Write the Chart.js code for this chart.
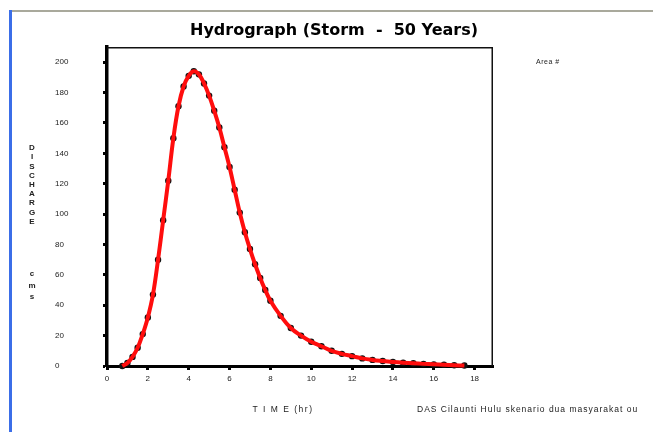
<!DOCTYPE html>
<html><head><meta charset="utf-8">
<script src="https://cdn.jsdelivr.net/npm/chart.js@4.4.0/dist/chart.umd.min.js"></script>
<style>html,body{margin:0;padding:0;background:#fff;overflow:hidden}#wrap{width:653px;height:432px;position:relative}</style>
</head><body><div id="wrap"><canvas id="c" width="653" height="432"></canvas></div>
<script>
// ---- data ----
const timeHr = [0.75,1.0,1.25,1.5,1.75,2.0,2.25,2.5,2.75,3.0,3.25,3.5,3.75,4.0,4.25,4.5,4.75,5.0,5.25,5.5,5.75,6.0,6.25,6.5,6.75,7.0,7.25,7.5,7.75,8.0,8.5,9.0,9.5,10.0,10.5,11.0,11.5,12.0,12.5,13.0,13.5,14.0,14.5,15.0,15.5,16.0,16.5,17.0,17.5];
const dischargeCms = [0,2,6,12,21,32,47,70,96,122,150,171,184,191,194,192,186,178,168,157,144,131,116,101,88,77,67,58,50,43,33,25,20,16,13,10,8,6.5,5,4,3.3,2.7,2.2,1.8,1.4,1.1,0.8,0.5,0.3];
const xTickValues = [0,2,4,6,8,10,12,14,16,18];
const yTickValues = [0,20,40,60,80,100,120,140,160,180,200];
const chartTitle = 'Hydrograph (Storm  -  50 Years)';
const yTitleLetters = ['D','I','S','C','H','A','R','G','E'];
const yUnitLetters = ['c','m','s'];
const xTitle = 'T I M E (hr)';
const legendNote = 'Area #';
const footNote = 'DAS Cilaunti Hulu skenario dua masyarakat ou';

const points = timeHr.map((t,i)=>({x:t,y:dischargeCms[i]}));

const decor = {
  id:'decor',
  beforeDraw(chart){
    const ctx = chart.ctx; ctx.save();
    ctx.fillStyle = '#ffffff'; ctx.fillRect(0,0,chart.width,chart.height);
    ctx.fillStyle = '#a9a99c'; ctx.fillRect(12,10,chart.width-12,2);
    ctx.fillStyle = '#3b6ee8'; ctx.fillRect(9,10,3,chart.height-10);
    ctx.restore();
  },
  beforeDatasetsDraw(chart){
    const ctx = chart.ctx, a = chart.chartArea; ctx.save();
    ctx.strokeStyle = '#111'; ctx.lineWidth = 1.5;
    ctx.beginPath(); ctx.moveTo(a.left, a.top+0.75); ctx.lineTo(a.right-0.75, a.top+0.75); ctx.lineTo(a.right-0.75, a.bottom); ctx.stroke();
    ctx.restore();
  },
  afterDraw(chart){
    const ctx = chart.ctx; ctx.save();
    ctx.fillStyle = '#000';
    ctx.font = 'bold 16px "DejaVu Sans"';
    ctx.textAlign = 'center'; ctx.textBaseline = 'middle';
    ctx.fillText(chartTitle, 334, 31);
    ctx.font = 'bold 8px "Liberation Sans"'; ctx.fillStyle = '#222';
    yTitleLetters.forEach((ch,i)=>ctx.fillText(ch, 32, 148 + i*9.2));
    const uy = [274, 286, 297];
    yUnitLetters.forEach((ch,i)=>ctx.fillText(ch, 32, uy[i]));
    ctx.font = '8.5px "Liberation Sans"';
    ctx.letterSpacing = '1.5px';
    ctx.fillText(xTitle, 283, 410);
    ctx.textAlign = 'left';
    ctx.letterSpacing = '1px';
    ctx.fillText(footNote, 417, 410);
    ctx.letterSpacing = '0.5px';
    ctx.font = '7px "Liberation Sans"';
    ctx.fillText(legendNote, 536, 62);
    ctx.restore();
  }
};

new Chart(document.getElementById('c'), {
  type: 'scatter',
  data: { datasets: [
    { label:'fit', data: points, showLine:true, borderColor:'#ff0d0d', borderWidth:4, tension:0.4, pointRadius:0, clip:6, order:1 },
    { label:'obs', data: points, showLine:false, pointRadius:3.2, pointBackgroundColor:'#111', pointBorderWidth:0, clip:6, order:2 }
  ]},
  options: {
    responsive:false, animation:false, devicePixelRatio:1,
    layout:{ padding:{ left:55, top:47, right:160, bottom:0 } },
    plugins:{ legend:{display:false}, tooltip:{enabled:false}, title:{display:false} },
    scales:{
      x:{ type:'linear', min:0, max:18.9,
        afterBuildTicks(s){ s.ticks = xTickValues.map(v=>({value:v})); },
        afterFit(s){ s.height = 66; },
        grid:{ drawOnChartArea:false, drawTicks:true, tickLength:4, tickWidth:3, tickColor:'#000' },
        border:{ display:true, color:'#000', width:3 },
        ticks:{ color:'#222', font:{family:'Liberation Sans', size:8}, padding:4, maxRotation:0 }
      },
      y:{ type:'linear', min:0, max:210,
        afterBuildTicks(s){ s.ticks = yTickValues.map(v=>({value:v})); },
        afterFit(s){ s.width = 52; },
        grid:{ drawOnChartArea:false, drawTicks:true, tickLength:4, tickWidth:3, tickColor:'#000' },
        border:{ display:true, color:'#000', width:3.5 },
        ticks:{ color:'#222', font:{family:'Liberation Sans', size:8}, crossAlign:'far', padding:4 }
      }
    }
  },
  plugins:[decor]
});
</script></body></html>
